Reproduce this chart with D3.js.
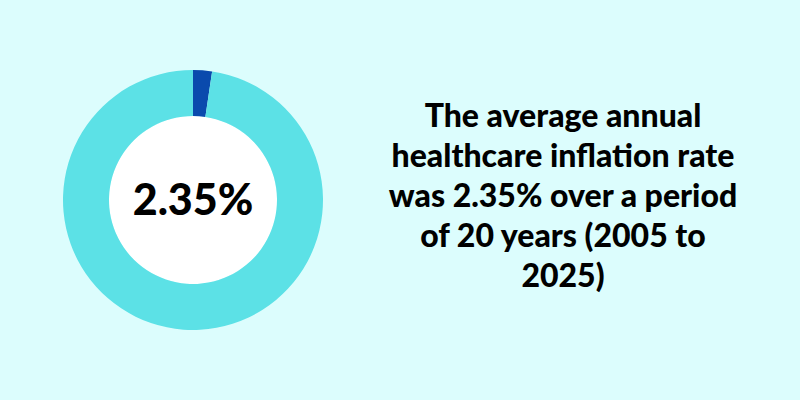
<!DOCTYPE html><html><head><script src="https://cdn.jsdelivr.net/npm/d3@7"></script>
<style>body{margin:0;background:#dcfdfd}</style></head><body><svg width="800" height="400"></svg>
<script>
const labels=["Healthcare inflation","Remainder"];
const values=[2.35,97.65];
const colors=["#0a4aad","#5ce1e6"];
const centerLabel="2.35%";
const textLines=["The average annual","healthcare inflation rate","was 2.35% over a period","of 20 years (2005 to","2025)"];
const svg=d3.select("svg");
svg.append("rect").attr("width",800).attr("height",400).attr("fill","#dcfdfd");
const g=svg.append("g").attr("transform","translate(193,200)");
const pie=d3.pie().sort(null)(values);
const arc=d3.arc().innerRadius(84).outerRadius(130);
g.append("circle").attr("r",84).attr("fill","#fff");
g.selectAll("path").data(pie).join("path").attr("d",arc).attr("fill",(d,i)=>colors[i]);
g.append("text").attr("text-anchor","middle").attr("dy","0.35em").attr("font-family","Lato").attr("font-weight",900).attr("font-size",43).attr("fill","#000").text(centerLabel);
svg.append("g").selectAll("text").data(textLines).join("text").attr("x",563).attr("y",(d,i)=>127+i*40).attr("text-anchor","middle").attr("font-family","Lato").attr("font-weight",900).attr("font-size",32).attr("fill","#000").text(d=>d);
</script></body></html>
